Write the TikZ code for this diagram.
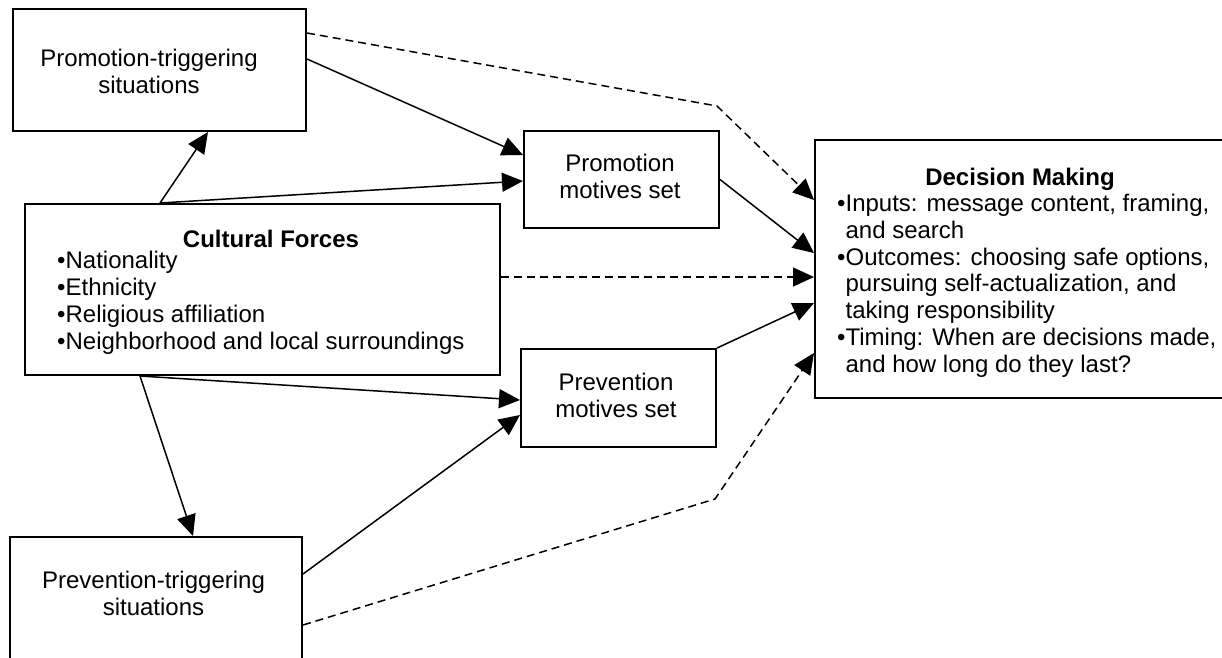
\documentclass[tikz,border=0pt]{standalone}
\usepackage{fontspec}
\setmainfont{Liberation Sans}
\usetikzlibrary{arrows.meta,calc}
\begin{document}
\begin{tikzpicture}[x=1pt,y=-1pt,
  box/.style={draw,line width=2pt,inner sep=0pt},
  txt/.style={inner sep=0pt,font=\fontsize{24}{26.7}\selectfont},
  conn/.style={line width=1.5pt,-{Triangle[length=21pt,width=19pt]}},
  dconn/.style={conn,dash pattern=on 8pt off 5pt}]
\useasboundingbox (0,0) rectangle (1222,657);
% boxes
\node[box,minimum width=293pt,minimum height=122pt] (pt) at (159.5,70) {};
\node[box,minimum width=475pt,minimum height=171pt] (cf) at (262.5,289.5) {};
\node[box,minimum width=195pt,minimum height=97pt] (pm) at (621.5,179.5) {};
\node[box,minimum width=195pt,minimum height=98pt] (pv) at (618.5,398) {};
\node[box,minimum width=415pt,minimum height=258pt] (dm) at (1022.5,269) {};
\node[box,minimum width=292pt,minimum height=163pt] (pvt) at (156,618.5) {};
% texts (base anchor of a multi-line node = baseline of its last line)
\node[txt,anchor=base,align=center] (pttext) at (149,93) {Promotion-triggering\\situations};
\node[txt,anchor=base] (cftitle) at (271,247) {\textbf{Cultural Forces}};
\node[txt,anchor=base west,align=left] (cftext) at (57,349) {•Nationality\\•Ethnicity\\•Religious affiliation\\•Neighborhood and local surroundings};
\node[txt,anchor=base,align=center] (pmtext) at (620,198) {Promotion\\motives set};
\node[txt,anchor=base,align=center] (pvtext) at (616,417) {Prevention\\motives set};
\node[txt,anchor=base,align=center] (pvttext) at (153.5,615) {Prevention-triggering\\situations};
\node[txt,anchor=base] (dmtitle) at (1020,185) {\textbf{Decision Making}};
\node[txt,anchor=base west,align=left] (dmtext) at (837,372) {•Inputs: message content, framing,\\\phantom{•}and search\\•Outcomes: choosing safe options,\\\phantom{•}pursuing self-actualization, and\\\phantom{•}taking responsibility\\•Timing: When are decisions made,\\\phantom{•}and how long do they last?};
% connectors
\coordinate (c1) at (717,106);
\coordinate (c2) at (715,499);
\draw[conn] ($(cf.north)+(-102.5,0)$) -- ($(pt.south)+(48.5,0)$);
\draw[conn] ($(cf.north)+(-102.5,0)$) -- ($(pm.west)+(0,1.5)$);
\draw[conn] ($(pt.east)+(0,-11)$) -- ($(pm.west)+(0,-24.5)$);
\draw[dconn] ($(pt.east)+(0,-37)$) -- (c1) -- ($(dm.west)+(0,-69)$);
\draw[conn] (pm.east) -- ($(dm.west)+(0,-16)$);
\draw[dconn] ($(cf.east)+(0,-12.5)$) -- ($(dm.west)+(0,8)$);
\draw[conn] (pv.north east) -- ($(dm.west)+(0,34)$);
\draw[dconn] ($(pvt.east)+(0,6.5)$) -- (c2) -- ($(dm.west)+(0,84)$);
\draw[conn] ($(cf.south)+(-122.5,0)$) -- ($(pv.west)+(0,2)$);
\draw[conn] ($(cf.south)+(-122.5,0)$) -- ($(pvt.north)+(37,0)$);
\draw[conn] ($(pvt.east)+(0,-44.5)$) -- ($(pv.west)+(0,17)$);
\end{tikzpicture}
\end{document}
